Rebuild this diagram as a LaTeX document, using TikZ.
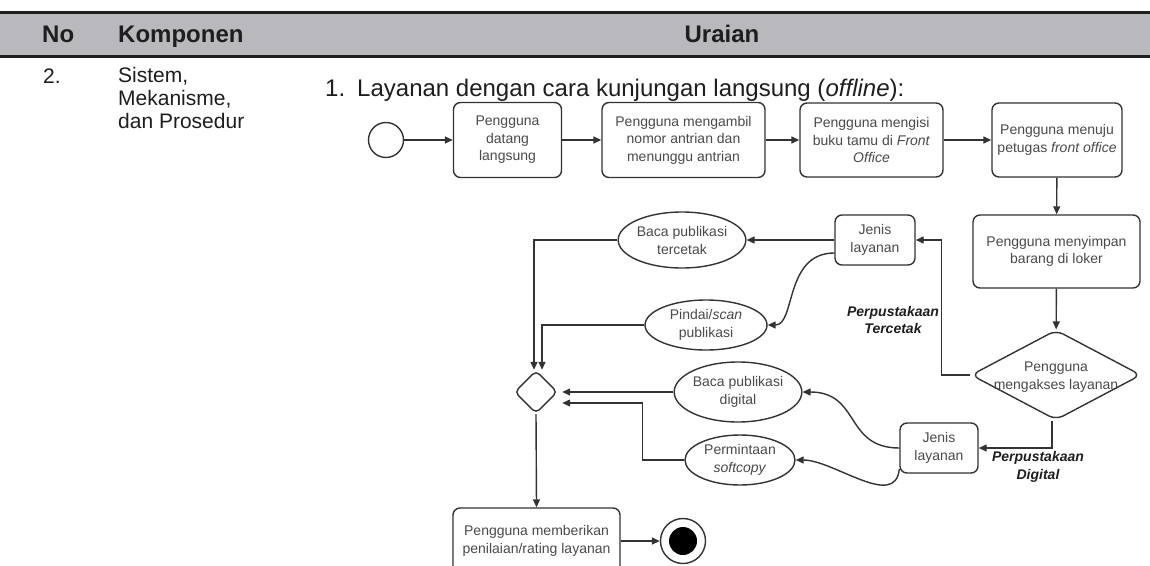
\documentclass[tikz,border=0pt]{standalone}
\usepackage{fontspec}
\setmainfont{Liberation Sans}
\usetikzlibrary{arrows.meta,shapes.geometric,calc}
\definecolor{hdr}{HTML}{B9B9BD}
\definecolor{ink}{HTML}{1E1E1E}
\definecolor{boxtxt}{HTML}{4A4A4A}
\definecolor{lncol}{HTML}{333333}
\begin{document}
\begin{tikzpicture}[x=1pt,y=-1pt,
  box/.style={draw=lncol, line width=1.4pt, rounded corners=7pt, align=center, text=boxtxt,
    font=\fontsize{14}{17.5}\selectfont, inner sep=2pt},
  ell/.style={ellipse, draw=lncol, line width=1.4pt, align=center, text=boxtxt,
    font=\fontsize{14}{18}\selectfont, inner sep=0pt},
  dia/.style={diamond, draw=lncol, line width=1.4pt, rounded corners=8pt, inner sep=0pt},
  arr/.style={draw=lncol, line width=1.4pt, -{Triangle[length=8pt,width=7pt]}},
  lbl/.style={font=\fontsize{14}{17.5}\selectfont\bfseries\itshape, text=ink, align=center},
  hd/.style={font=\fontsize{24}{28}\selectfont\bfseries, text=ink, anchor=base, inner sep=0pt},
  bodytxt/.style={font=\fontsize{21}{23}\selectfont, text=ink, align=left, inner sep=0pt},
]
\useasboundingbox (0,0) rectangle (1150,565);
\fill[white] (0,0) rectangle (1150,565);
% header
\fill[hdr] (0,13) rectangle (1150,55);
\draw[ink, line width=2.5pt] (0,12.5) -- (1150,12.5);
\draw[ink, line width=3.5pt] (0,12.5) -- (292,12.5);
\draw[ink, line width=3pt] (0,56) -- (1150,56);
\node[hd, anchor=base west] (hno) at (42,42) {No};
\node[hd, anchor=base west] (hkomp) at (118,42) {Komponen};
\node[hd] (hur) at (722,42) {Uraian};
% first column
\node[bodytxt, anchor=base west] (num) at (43,83) {2.};
\node[bodytxt, anchor=north west] (komp) at (118,67) {Sistem,\\Mekanisme,\\dan Prosedur};
\node[bodytxt, anchor=base west, font=\fontsize{24}{26}\selectfont] (title) at (325,96) {1.\hspace{0.5em}Layanan dengan cara kunjungan langsung (\textit{offline}):};
% flow nodes
\node[circle, draw=lncol, line width=1.4pt, minimum size=35pt, inner sep=0pt] (start) at (386,140) {};
\node[box, minimum width=108pt, minimum height=75pt] (b1) at (507.5,140) {Pengguna\\datang\\langsung};
\node[box, minimum width=163pt, minimum height=75pt] (b2) at (683.5,140) {Pengguna mengambil\\nomor antrian dan\\menunggu antrian};
\node[box, minimum width=143pt, minimum height=74pt] (b3) at (871.5,140) {Pengguna mengisi\\buku tamu di \textit{Front}\\\textit{Office}};
\node[box, minimum width=130pt, minimum height=74pt] (b4) at (1057,140) {Pengguna menuju\\petugas \textit{front office}};
\node[box, minimum width=167pt, minimum height=73pt] (b5) at (1056.5,251.5) {Pengguna menyimpan\\barang di loker};
\node[dia, minimum width=170pt, minimum height=90pt] (dec) at (1056,375) {};
\node[font=\fontsize{14}{18}\selectfont, text=boxtxt, align=center] (dectxt) at (1056,377) {Pengguna\\mengakses layanan};
\node[box, minimum width=80pt, minimum height=50pt] (j1) at (875,240) {Jenis\\layanan};
\node[box, minimum width=78pt, minimum height=50pt] (j2) at (939,448) {Jenis\\layanan};
\node[ell, minimum width=123pt, minimum height=56pt] (e1) at (682,240) {Baca publikasi\\tercetak};
\node[ell, minimum width=122pt, minimum height=50pt] (e2) at (706,325) {Pindai/\textit{scan}\\publikasi};
\node[ell, minimum width=117pt, minimum height=60pt] (e3) at (738,392) {Baca publikasi\\digital};
\node[ell, minimum width=110pt, minimum height=50pt] (e4) at (740,460) {Permintaan\\\textit{softcopy}};
\node[dia, minimum width=43pt, minimum height=43pt, rounded corners=5pt] (merge) at (536,392) {};
\node[box, minimum width=167pt, minimum height=66pt] (fin) at (536.5,541) {Pengguna memberikan\\penilaian/rating layanan};
\node[circle, draw=lncol, line width=1.4pt, minimum size=45pt, inner sep=0pt] (endc) at (683,541) {};
\node[circle, fill=black, minimum size=28pt, inner sep=0pt] (endin) at (endc) {};
% labels
\node[lbl] (lt) at (893,320) {Perpustakaan\\Tercetak};
\node[lbl] (ld) at (1038,467) {Perpustakaan\\Digital};
% connectors
\draw[arr] (start) -- (b1);
\draw[arr] (b1) -- (b2);
\draw[arr] (b2) -- (b3);
\draw[arr] (b3) -- (b4);
\draw[arr] (b4) -- (b5);
\draw[arr] (b5) -- (dec);
\draw[arr] (dec.west) -- ++(-29,0) |- (j1.east);
\draw[arr] ([xshift=-4]dec.south) |- (j2.east);
\draw[arr] (j1.west) -- (e1.east);
\draw[arr] ([yshift=-13]j1.west) .. controls +(-50,0) and +(28,0) .. (e2.east);
\draw[arr] (j2.west) .. controls +(-55,0) and +(58,0) .. (e3.east);
\draw[arr] ([yshift=-21]j2.west) .. controls +(-4,41) and +(38,0) .. (e4.east);
\draw[arr] (e1.west) -| ([xshift=-2]merge.north);
\draw[arr] (e2.west) -| ([xshift=6]merge.north);
\draw[arr] (e3.west) -- ([xshift=4]merge.east);
\draw[arr] (e4.west) -- ++(-42,0) |- ([xshift=4,yshift=-11]merge.east);
\draw[arr] (merge.south) -- (fin.north);
\draw[arr] (fin.east) -- (endc.west);
\end{tikzpicture}
\end{document}
